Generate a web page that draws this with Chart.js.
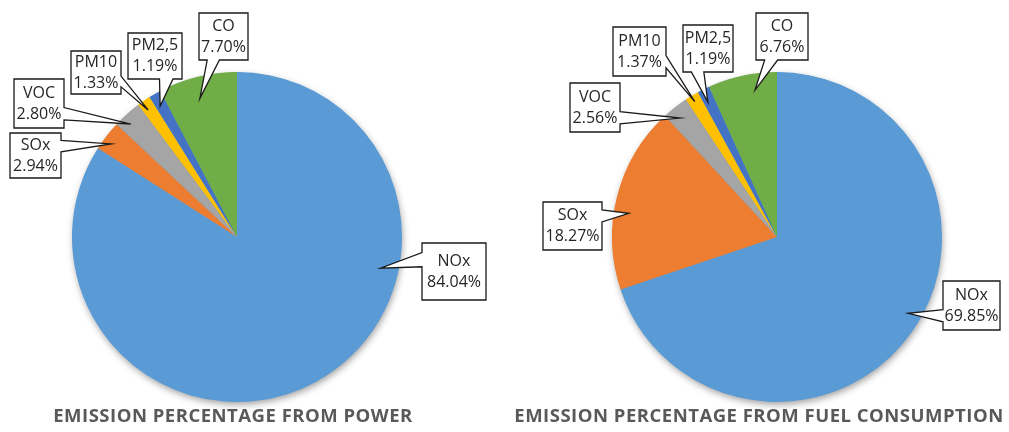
<!DOCTYPE html>
<html>
<head>
<meta charset="utf-8">
<script src="https://cdn.jsdelivr.net/npm/chart.js@4.4.1/dist/chart.umd.min.js"></script>
<style>
  html, body { margin: 0; padding: 0; background: #ffffff; }
  #wrap { position: relative; width: 1009px; height: 432px; }
  canvas { position: absolute; top: 0; }
</style>
</head>
<body>
<div id="wrap">
  <canvas id="power" width="504" height="432" style="left:0"></canvas>
  <canvas id="fuel" width="505" height="432" style="left:504px"></canvas>
</div>
<script>
// Pollutant categories and their shares (%) for each emission basis
const pollutants = ['NOx', 'SOx', 'VOC', 'PM10', 'PM2,5', 'CO'];
const powerShares = [84.04, 2.94, 2.80, 1.33, 1.19, 7.70];
const fuelShares = [69.85, 18.27, 2.56, 1.37, 1.19, 6.76];

const powerTitle = 'EMISSION PERCENTAGE FROM POWER';
const fuelTitle = 'EMISSION PERCENTAGE FROM FUEL CONSUMPTION';

const sliceColors = ['#5B9BD5', '#ED7D31', '#A5A5A5', '#FFC000', '#4472C4', '#70AD47'];

// Callout boxes: offset of box centre from pie centre, box size,
// and where the pointer lands inside its slice (fraction of sweep, fraction of radius)
const powerCallouts = [
  { dx: 217, dy: 34.5, w: 64, h: 57, at: 0.338, r: 0.89 },
  { dx: -201.5, dy: -81.5, w: 51, h: 45, at: 0.365, r: 0.95 },
  { dx: -198, dy: -133.5, w: 50, h: 49, at: 0.36, r: 0.94 },
  { dx: -141, dy: -164.5, w: 50, h: 43, at: 0.38, r: 0.94 },
  { dx: -82, dy: -181, w: 54, h: 46, at: 0.37, r: 0.92 },
  { dx: -13.5, dy: -200.5, w: 49, h: 47, at: 0.46, r: 0.87 }
];
const fuelCallouts = [
  { dx: 194.5, dy: 68.5, w: 57, h: 49, at: 0.478, r: 0.92 },
  { dx: -204.5, dy: -11, w: 59, h: 48, at: 0.42, r: 0.91 },
  { dx: -182, dy: -129.5, w: 50, h: 49, at: 0.39, r: 0.93 },
  { dx: -137.5, dy: -185.5, w: 53, h: 49, at: 0.46, r: 0.96 },
  { dx: -69, dy: -188.5, w: 50, h: 47, at: 0.35, r: 0.92 },
  { dx: 5, dy: -200.5, w: 52, h: 47, at: 0.65, r: 0.90 }
];

// Soft drop shadow under the whole pie
const pieShadow = {
  id: 'pieShadow',
  beforeDatasetsDraw(chart) {
    const arc = chart.getDatasetMeta(0).data[0];
    if (!arc) return;
    const { x, y, outerRadius } = arc.getProps(['x', 'y', 'outerRadius'], true);
    const ctx = chart.ctx;
    ctx.save();
    ctx.shadowColor = 'rgba(0,0,0,0.38)';
    ctx.shadowBlur = 7;
    ctx.shadowOffsetX = 1;
    ctx.shadowOffsetY = 3;
    ctx.fillStyle = sliceColors[0];
    ctx.beginPath();
    ctx.arc(x, y, outerRadius - 0.5, 0, Math.PI * 2);
    ctx.fill();
    ctx.restore();
  }
};

// Rectangle callout with a wedge pointing at (tx, ty)
function calloutPath(ctx, L, T, W, H, tx, ty) {
  const cx = L + W / 2, cy = T + H / 2;
  const dx = tx - cx, dy = ty - cy;
  const R = L + W, B = T + H;
  let edge;
  if (Math.abs(dx) / W > Math.abs(dy) / H) edge = dx > 0 ? 'right' : 'left';
  else edge = dy > 0 ? 'bottom' : 'top';
  ctx.beginPath();
  ctx.moveTo(L, T);
  if (edge === 'top') {
    const a = dx < 0 ? [L + W / 6, L + 5 * W / 12] : [L + 7 * W / 12, L + 5 * W / 6];
    ctx.lineTo(a[0], T); ctx.lineTo(tx, ty); ctx.lineTo(a[1], T);
  }
  ctx.lineTo(R, T);
  if (edge === 'right') {
    const a = dy < 0 ? [T + H / 6, T + 5 * H / 12] : [T + 7 * H / 12, T + 5 * H / 6];
    ctx.lineTo(R, a[0]); ctx.lineTo(tx, ty); ctx.lineTo(R, a[1]);
  }
  ctx.lineTo(R, B);
  if (edge === 'bottom') {
    const a = dx < 0 ? [L + 5 * W / 12, L + W / 6] : [L + 5 * W / 6, L + 7 * W / 12];
    ctx.lineTo(a[0], B); ctx.lineTo(tx, ty); ctx.lineTo(a[1], B);
  }
  ctx.lineTo(L, B);
  if (edge === 'left') {
    const a = dy < 0 ? [T + 5 * H / 12, T + H / 6] : [T + 5 * H / 6, T + 7 * H / 12];
    ctx.lineTo(L, a[0]); ctx.lineTo(tx, ty); ctx.lineTo(L, a[1]);
  }
  ctx.closePath();
}

// Boxed data labels with pointers into each slice
const calloutLabels = {
  id: 'calloutLabels',
  afterDatasetsDraw(chart, args, opts) {
    const ctx = chart.ctx;
    const ds = chart.data.datasets[0];
    const meta = chart.getDatasetMeta(0);
    meta.data.forEach((arc, i) => {
      const spec = opts.layout[i];
      const p = arc.getProps(['x', 'y', 'startAngle', 'endAngle', 'outerRadius'], true);
      const ang = p.startAngle + spec.at * (p.endAngle - p.startAngle);
      const tx = p.x + Math.cos(ang) * p.outerRadius * spec.r;
      const ty = p.y + Math.sin(ang) * p.outerRadius * spec.r;
      const bx = p.x + spec.dx, by = p.y + spec.dy;
      const L = bx - spec.w / 2, T = by - spec.h / 2;
      ctx.save();
      calloutPath(ctx, L, T, spec.w, spec.h, tx, ty);
      ctx.fillStyle = '#ffffff';
      ctx.fill();
      ctx.lineWidth = 1.3;
      ctx.strokeStyle = '#1a1a1a';
      ctx.lineJoin = 'miter';
      ctx.stroke();
      ctx.fillStyle = '#262626';
      ctx.font = '16px "Open Sans"';
      ctx.textAlign = 'center';
      ctx.textBaseline = 'middle';
      ctx.fillText(chart.data.labels[i], bx, by - 10.5);
      ctx.fillText(ds.data[i].toFixed(2) + '%', bx, by + 10.5);
      ctx.restore();
    });
  }
};

// Caption under each pie
const caption = {
  id: 'caption',
  afterDraw(chart, args, opts) {
    const ctx = chart.ctx;
    ctx.save();
    ctx.font = 'bold 18.5px "Open Sans"';
    if ('letterSpacing' in ctx) ctx.letterSpacing = '0.5px';
    ctx.fillStyle = '#595959';
    ctx.textAlign = 'center';
    ctx.textBaseline = 'middle';
    ctx.fillText(opts.text, opts.x, opts.y);
    ctx.restore();
  }
};

function makePie(id, shares, callouts, title, pad, titleX) {
  return new Chart(document.getElementById(id), {
    type: 'pie',
    data: {
      labels: pollutants,
      datasets: [{
        data: shares,
        backgroundColor: sliceColors,
        borderWidth: 0
      }]
    },
    options: {
      responsive: false,
      animation: false,
      layout: { padding: pad },
      plugins: {
        legend: { display: false },
        tooltip: { enabled: false },
        calloutLabels: { layout: callouts },
        caption: { text: title, x: titleX, y: 417 }
      }
    },
    plugins: [pieShadow, calloutLabels, caption]
  });
}

makePie('power', powerShares, powerCallouts, powerTitle,
  { left: 72, right: 102, top: 72, bottom: 30 }, 233);
makePie('fuel', fuelShares, fuelCallouts, fuelTitle,
  { left: 108, right: 67, top: 72, bottom: 30 }, 255);
</script>
</body>
</html>
